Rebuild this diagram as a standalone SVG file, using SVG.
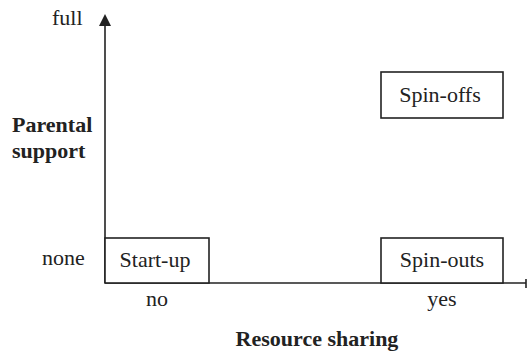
<svg xmlns="http://www.w3.org/2000/svg" width="527" height="353" viewBox="0 0 527 353">
  <style>
    text { font-family: 'Liberation Serif', 'DejaVu Serif', serif; font-size: 22px; fill: #222; }
    .bold { font-weight: bold; }
    .box { fill: #fff; stroke: #222; stroke-width: 1.6; }
    .axis { stroke: #222; stroke-width: 1.6; fill: none; }
  </style>
  <defs>
    <marker id="arrow" viewBox="0 0 12 12" refX="1" refY="6" markerWidth="12" markerHeight="12" markerUnits="userSpaceOnUse" orient="auto">
      <path d="M0,0 L12,6 L0,12 Z" fill="#222"/>
    </marker>
  </defs>

  <rect width="527" height="353" fill="#fff"/>

  <!-- axes -->
  <g id="connectors">
    <line class="axis" x1="105" y1="283" x2="105" y2="25" marker-end="url(#arrow)"/>
    <line class="axis" x1="105" y1="283" x2="526" y2="283"/>
    <line class="axis" x1="526" y1="279" x2="526" y2="288"/>
  </g>

  <!-- axis labels -->
  <text x="52" y="25">full</text>
  <text x="42" y="265">none</text>
  <text x="157" y="306" text-anchor="middle">no</text>
  <text x="442" y="306" text-anchor="middle">yes</text>
  <text class="bold" x="12" y="132">Parental</text>
  <text class="bold" x="12" y="158">support</text>
  <text class="bold" x="317" y="346" text-anchor="middle">Resource sharing</text>

  <!-- quadrants -->
  <g id="startup">
    <rect class="box" x="105" y="238" width="104" height="45"/>
    <text x="155" y="267" text-anchor="middle">Start-up</text>
  </g>
  <g id="spinouts">
    <rect class="box" x="381" y="238" width="122" height="45"/>
    <text x="442" y="267" text-anchor="middle">Spin-outs</text>
  </g>
  <g id="spinoffs">
    <rect class="box" x="381" y="72" width="122" height="46"/>
    <text x="440" y="102" text-anchor="middle">Spin-offs</text>
  </g>
</svg>
